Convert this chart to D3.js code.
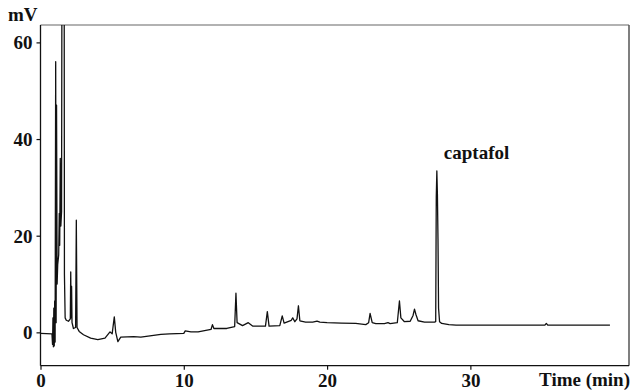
<!DOCTYPE html>
<html>
<head>
<meta charset="utf-8">
<script src="https://cdn.jsdelivr.net/npm/d3@7"></script>
<style>
html,body{margin:0;padding:0;background:#fff;}
svg{display:block;}
text{font-family:"Liberation Serif","Times New Roman",serif;font-weight:bold;fill:#111;}
</style>
</head>
<body>
<svg id="c" width="632" height="390"></svg>
<script>
// ---- data ----
const xTicks = [0, 10, 20, 30];
const yTicks = [0, 20, 40, 60];
const xLabel = "Time (min)";
const yLabel = "mV";
const peakLabel = "captafol";
const peakTime = 27.66;
const peakValue = 33.4;
// retention time (min)
const times = [
  0.0, 0.8, 0.84, 0.87, 0.9, 0.93, 0.96, 0.99, 1.02, 1.06, 1.09, 1.12, 1.16, 1.2, 1.27, 1.31, 1.34, 1.38, 1.42, 1.47,
  1.52, 1.64, 1.67, 1.72, 1.8, 1.95, 2.08, 2.11, 2.14, 2.17, 2.2, 2.3, 2.45, 2.5, 2.55, 2.7, 3.0, 3.5, 4.0, 4.5,
  4.85, 5.0, 5.15, 5.25, 5.4, 5.6, 6.5, 7.0, 8.4, 9.0, 10.0, 10.1, 10.5, 11.0, 11.9, 12.0, 12.1, 13.0, 13.55, 13.64,
  13.72, 14.1, 14.5, 14.8, 15.7, 15.83, 15.95, 16.7, 16.87, 17.0, 17.5, 17.6, 17.75, 17.9, 18.0, 18.1, 18.5, 19.0, 19.3, 19.5,
  20.0, 21.0, 22.0, 22.7, 22.9, 23.0, 23.15, 23.4, 24.0, 24.25, 24.4, 24.9, 25.05, 25.15, 25.4, 25.8, 26.0, 26.1, 26.2, 26.35,
  26.8, 27.5, 27.58, 27.62, 27.66, 27.7, 27.74, 27.78, 27.85, 28.0, 28.5, 29.0, 35.2, 35.3, 35.4, 39.74
];
// detector signal (mV)
const signal = [
  -0.2, -0.3, -2.5, 3, -3, 5, -2.8, 6.5, -2, 56, 2, 47, 10, 14, 16, 24.6, 18, 36, 22, 25,
  120, 120, 12, 3, 2.5, 2.3, 2.8, 12.5, 3, 9.5, 2, 0.8, 1, 23.2, 1, 0.2, -0.5, -1.2, -1.5, -1.2,
  0.1, -0.3, 3.2, 0, -1.9, -1.0, -0.9, -1.0, -0.4, -0.3, -0.2, 0.3, 0.1, 0.1, 0.6, 1.6, 0.8, 0.8, 1.2, 8.1,
  2.0, 1.4, 2.0, 1.3, 1.3, 4.3, 1.3, 1.4, 3.4, 1.9, 2.5, 3.0, 2.2, 2.8, 5.5, 2.4, 2.1, 2.1, 2.3, 2.1,
  2.0, 1.9, 1.85, 1.6, 2.0, 3.9, 2.0, 1.8, 1.8, 2.0, 1.8, 2.0, 6.5, 3.0, 2.2, 2.3, 3.5, 4.8, 3.7, 2.4,
  2.1, 2.1, 2.2, 28, 33.4, 28.5, 19.3, 5, 2.2, 1.85, 1.6, 1.5, 1.5, 1.85, 1.5, 1.5
];

// ---- layout ----
const L = 40.5, R = 629, T = 25, B = 365.7;
const x = d3.scaleLinear().domain([0, 41.07]).range([L, R]);
const y = d3.scaleLinear().domain([-6.9, 63.6]).range([B, T]);

const svg = d3.select("#c");

svg.append("defs").append("clipPath").attr("id", "clip")
  .append("rect").attr("x", L).attr("y", T).attr("width", R - L).attr("height", B - T);

// frame
svg.append("line").attr("x1", L).attr("x2", R).attr("y1", T).attr("y2", T)
  .attr("stroke", "#666").attr("stroke-width", 1.2);
svg.append("line").attr("x1", R).attr("x2", R).attr("y1", T).attr("y2", B)
  .attr("stroke", "#555").attr("stroke-width", 1.5);

// trace
const pts = times.map((t, i) => [t, signal[i]]);
svg.append("path")
  .datum(pts)
  .attr("clip-path", "url(#clip)")
  .attr("fill", "none")
  .attr("stroke", "#111")
  .attr("stroke-width", 1.3)
  .attr("stroke-linejoin", "round")
  .attr("d", d3.line().x(d => x(d[0])).y(d => y(d[1])));

// axes
const ax = svg.append("g").attr("transform", `translate(0,${B})`)
  .call(d3.axisBottom(x).tickValues(xTicks).tickSize(4).tickSizeOuter(0).tickFormat(d3.format("d")));
const ay = svg.append("g").attr("transform", `translate(${L},0)`)
  .call(d3.axisLeft(y).tickValues(yTicks).tickSize(4).tickSizeOuter(0).tickFormat(d3.format("d")));
[ax, ay].forEach(g => {
  g.select(".domain").attr("stroke", "#111").attr("stroke-width", 1.3);
  g.selectAll(".tick line").attr("stroke", "#111").attr("stroke-width", 1.2);
  g.selectAll(".tick text")
    .attr("font-family", "Liberation Serif, Times New Roman, serif")
    .attr("font-weight", "bold").attr("font-size", 19).attr("fill", "#111");
});
ax.select(".domain").attr("d", `M${L},0H${R}`);
ay.select(".domain").attr("d", `M0,${B}V${T}`);
ax.selectAll(".tick text").attr("y", 8).attr("dy", "0.71em");
ay.selectAll(".tick text").attr("x", -8).attr("dy", "0.34em");

// labels
svg.append("text").attr("x", 8).attr("y", 21).attr("font-size", 19).text(yLabel);
svg.append("text").attr("x", 630).attr("y", 386).attr("text-anchor", "end").attr("font-size", 19).text(xLabel);
svg.append("text").attr("x", x(peakTime) + 7).attr("y", y(peakValue) - 12)
  .attr("font-size", 19).text(peakLabel);
</script>
</body>
</html>
